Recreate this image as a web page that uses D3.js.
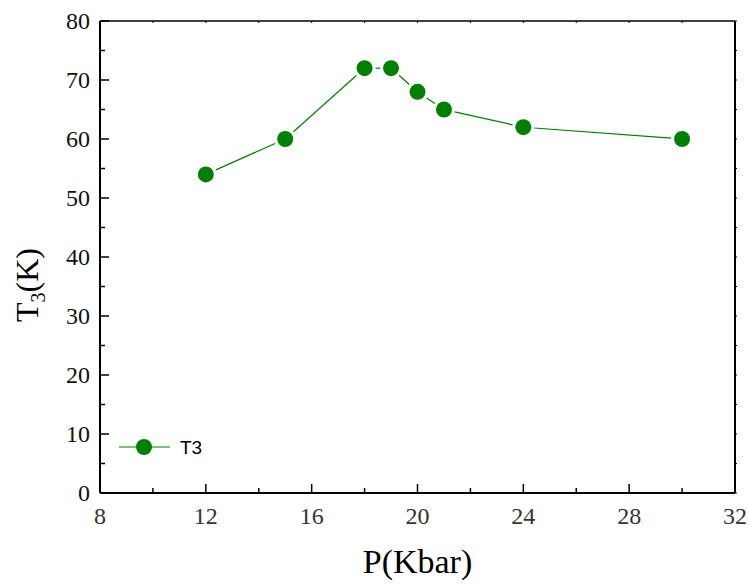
<!DOCTYPE html>
<html><head><meta charset="utf-8">
<script src="https://cdn.jsdelivr.net/npm/d3@7/dist/d3.min.js"></script>
<style>body{margin:0;background:#fff}</style>
</head><body>
<svg id="c" width="749" height="584"></svg>
<script>
const pressure = [12, 15, 18, 19, 20, 21, 24, 30];
const t3 = [54, 60, 72, 72, 68, 65, 62, 60];
const xTicks = [8, 12, 16, 20, 24, 28, 32];
const yTicks = [0, 10, 20, 30, 40, 50, 60, 70, 80];
const seriesName = "T3";

const svg = d3.select("#c");
const L = 100, R = 735, T = 21, B = 493;
const x = d3.scaleLinear().domain([8, 32]).range([L, R]);
const y = d3.scaleLinear().domain([0, 80]).range([B, T]);
const green = "#008000";
const serif = "'Liberation Serif','Times New Roman',serif";

const xMinor = d3.range(10, 32, 4);
const yMinor = d3.range(5, 80, 10);

const ax = svg.append("g").attr("stroke", "#000").attr("fill", "none");
ax.append("line").attr("x1", L).attr("x2", R).attr("y1", B).attr("y2", B).attr("stroke-width", 2);
xTicks.forEach(v => ax.append("line").attr("x1", x(v)).attr("x2", x(v)).attr("y1", B).attr("y2", B - 9).attr("stroke-width", 1.5));
xMinor.forEach(v => ax.append("line").attr("x1", x(v)).attr("x2", x(v)).attr("y1", B).attr("y2", B - 5).attr("stroke-width", 1.5));
ax.append("line").attr("x1", L).attr("x2", L).attr("y1", T).attr("y2", B).attr("stroke-width", 2);
yTicks.forEach(v => ax.append("line").attr("x1", L).attr("x2", L + 9).attr("y1", y(v)).attr("y2", y(v)).attr("stroke-width", 1.5));
yMinor.forEach(v => ax.append("line").attr("x1", L).attr("x2", L + 5).attr("y1", y(v)).attr("y2", y(v)).attr("stroke-width", 1.5));
ax.append("line").attr("x1", L).attr("x2", R).attr("y1", T).attr("y2", T).attr("stroke-width", 1.5);
xTicks.concat(xMinor).forEach(v => ax.append("line").attr("x1", x(v)).attr("x2", x(v)).attr("y1", T).attr("y2", T + 2).attr("stroke-width", 1));
ax.append("line").attr("x1", R).attr("x2", R).attr("y1", T).attr("y2", B).attr("stroke-width", 2);
yTicks.concat(yMinor).forEach(v => ax.append("line").attr("x1", R).attr("x2", R + 2).attr("y1", y(v)).attr("y2", y(v)).attr("stroke-width", 1));

svg.append("g").selectAll("text").data(xTicks).join("text")
  .attr("x", d => x(d)).attr("y", B + 31).attr("text-anchor", "middle")
  .attr("font-family", serif).attr("font-size", 24).attr("fill", "#333").text(d => d);
svg.append("g").selectAll("text").data(yTicks).join("text")
  .attr("x", L - 10).attr("y", d => y(d) + 8).attr("text-anchor", "end")
  .attr("font-family", serif).attr("font-size", 24).attr("fill", "#111").text(d => d);

svg.append("text").attr("x", x(20)).attr("y", 573).attr("text-anchor", "middle")
  .attr("font-family", serif).attr("font-size", 34).attr("fill", "#000").text("P(Kbar)");
const yt = svg.append("text").attr("transform", `translate(38,285) rotate(-90)`)
  .attr("text-anchor", "middle").attr("font-family", serif).attr("font-size", 32).attr("fill", "#000");
yt.append("tspan").text("T");
yt.append("tspan").attr("font-size", 20).attr("dy", 7).text("3");
yt.append("tspan").attr("dy", -7).text("(K)");

const r = 8, gap = 3;
const pts = pressure.map((p, i) => [x(p), y(t3[i])]);
const lg = svg.append("g").attr("stroke", green).attr("stroke-width", 1.2);
for (let i = 0; i < pts.length - 1; i++) {
  const [x1, y1] = pts[i], [x2, y2] = pts[i + 1];
  const dx = x2 - x1, dy = y2 - y1, len = Math.hypot(dx, dy);
  const off = r + gap;
  if (len > 2 * off) {
    lg.append("line")
      .attr("x1", x1 + dx / len * off).attr("y1", y1 + dy / len * off)
      .attr("x2", x2 - dx / len * off).attr("y2", y2 - dy / len * off);
  }
}
svg.append("g").selectAll("circle").data(pressure).join("circle")
  .attr("cx", d => x(d)).attr("cy", (d, i) => y(t3[i])).attr("r", r).attr("fill", green);

const ly = 447;
svg.append("line").attr("x1", 119).attr("x2", 170).attr("y1", ly).attr("y2", ly)
  .attr("stroke", green).attr("stroke-width", 1.2);
svg.append("circle").attr("cx", 144).attr("cy", ly).attr("r", r).attr("fill", green);
svg.append("text").attr("x", 180).attr("y", ly + 7).attr("font-family", "'Liberation Sans',Arial,sans-serif")
  .attr("font-size", 19).attr("fill", "#000").text(seriesName);
</script>
</body></html>
